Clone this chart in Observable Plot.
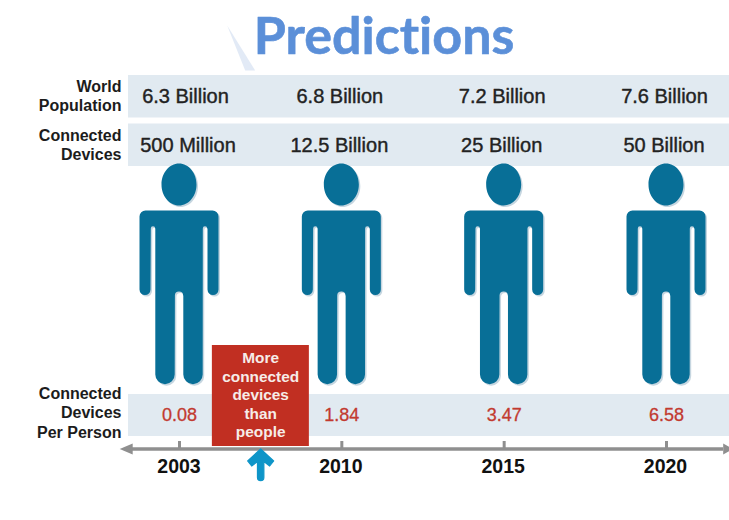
<!DOCTYPE html>
<html>
<head>
<meta charset="utf-8">
<title>Predictions</title>
<script src="https://cdn.jsdelivr.net/npm/d3@7"></script>
<script src="https://cdn.jsdelivr.net/npm/@observablehq/plot@0.6"></script>
<style>
  html, body { margin: 0; padding: 0; background: #fff; }
  svg { display: block; }
  svg text { font-variant-ligatures: none; }
</style>
</head>
<body>
<div id="chart"></div>
<script>
// Data
const years = [2003, 2010, 2015, 2020];
const worldPopulation = ["6.3 Billion", "6.8 Billion", "7.2 Billion", "7.6 Billion"];
const connectedDevices = ["500 Million", "12.5 Billion", "25 Billion", "50 Billion"];
const devicesPerPerson = [0.08, 1.84, 3.47, 6.58];
const rowLabels = ["World\nPopulation", "Connected\nDevices", "Connected\nDevices\nPer Person"];
const calloutText = "More\nconnected\ndevices\nthan\npeople";

// Vertical layout of the rows
const rowY = { population: 96, devices: 145, figure: 297, ratio: 415, year: 466 };
const bandY = [[75, 117.5], [123.5, 166], [394, 436]];
const labelY = [94.5, 143.5, 411.5];
const axisY = 448.5;

// Colours
const bandFill = "#e1eaf1";
const figureFill = "#086f97";
const red = "#c12f22";
const valueRed = "#c23a30";
const axisGrey = "#8f8f8f";
const arrowBlue = "#0e95c8";
const titleBlue = "#5b8fd8";

const sans = "'Liberation Sans', Arial, sans-serif";
const columns = years.map((_, i) => i);

// Standing person, drawn around the centre of the body
const person = {
  draw(c) {
    // head
    const k = 0.5523, rx = 17.5, ry = 21, hy = -113;
    c.moveTo(-rx, hy);
    c.bezierCurveTo(-rx, hy - k * ry, -k * rx, hy - ry, 0, hy - ry);
    c.bezierCurveTo(k * rx, hy - ry, rx, hy - k * ry, rx, hy);
    c.bezierCurveTo(rx, hy + k * ry, k * rx, hy + ry, 0, hy + ry);
    c.bezierCurveTo(-k * rx, hy + ry, -rx, hy + k * ry, -rx, hy);
    c.closePath();
    // shoulders, arms, legs
    c.moveTo(-33, -87);
    c.lineTo(33, -87);
    c.arcTo(39.5, -87, 39.5, -81, 6);
    c.lineTo(39.5, -8);
    c.arc(34, -8, 5.5, 0, Math.PI);
    c.lineTo(28.5, -69);
    c.arc(26, -69, 2.2, 0, Math.PI, true);
    c.lineTo(23.7, 77);
    c.arc(14, 77, 9.7, 0, Math.PI);
    c.lineTo(4.3, -2);
    c.arc(0, -2, 4.1, 0, Math.PI, true);
    c.lineTo(-4.3, 77);
    c.arc(-14, 77, 9.7, 0, Math.PI);
    c.lineTo(-23.7, -69);
    c.arc(-26, -69, 2.2, 0, Math.PI, true);
    c.lineTo(-28.5, -8);
    c.arc(-34, -8, 5.5, 0, Math.PI);
    c.lineTo(-39.5, -81);
    c.arcTo(-39.5, -87, -33, -87, 6);
    c.closePath();
  }
};

const upArrow = {
  draw(c) {
    c.moveTo(0, -15.5);
    c.lineTo(13, -3.5);
    c.lineTo(9, 1.5);
    c.lineTo(3.2, -3);
    c.lineTo(3.2, 13);
    c.arc(0, 13, 3.2, 0, Math.PI);
    c.lineTo(-3.2, -3);
    c.lineTo(-9, 1.5);
    c.lineTo(-13, -3.5);
    c.closePath();
  }
};

const triangle = (dir, half, reach) => ({
  draw(c) {
    c.moveTo(dir * reach, 0);
    c.lineTo(-dir * reach, -half);
    c.lineTo(-dir * reach, half);
    c.closePath();
  }
});

const wedge = {
  draw(c) {
    c.moveTo(-14, -23);
    c.lineTo(14, 22);
    c.lineTo(4, 22);
    c.closePath();
  }
};

// One row of column values; the first column can sit off-centre
const valueRow = (values, y, opts, firstDx = 0, restDx = 0) => {
  const base = { x: (d) => d.i, y: () => y, text: (d) => d.t, fontFamily: sans, ...opts };
  const cells = values.map((t, i) => ({ t, i }));
  return [
    Plot.text(cells.slice(0, 1), { ...base, dx: firstDx }),
    Plot.text(cells.slice(1), { ...base, dx: restDx })
  ];
};

const mediumText = { fontSize: 20, fill: "#222", stroke: "#222", strokeWidth: 0.4 };

const chart = Plot.plot({
  width: 729,
  height: 520,
  marginTop: 0,
  marginRight: 0,
  marginBottom: 0,
  marginLeft: 0,
  style: { background: "#fff", overflow: "visible" },
  x: { type: "linear", domain: [0, 3], range: [179, 666], axis: null },
  y: { type: "linear", domain: [0, 520], range: [0, 520], axis: null },
  marks: [
    // title with its pale wedge
    Plot.dot([0.38], { x: (d) => d, y: () => 48, symbol: wedge, fill: "#e2eaf6", r: 10 }),
    Plot.text(["Predictions"], {
      x: () => 1.26,
      y: () => 37,
      text: (d) => d,
      fontFamily: "Lato, sans-serif",
      fontWeight: 700,
      fontSize: 52,
      fill: titleBlue,
      stroke: titleBlue,
      strokeWidth: 0.6
    }),

    // shaded rows
    Plot.rect(bandY, { y1: (d) => d[0], y2: (d) => d[1], fill: bandFill, insetLeft: 128 }),

    // row headings
    Plot.text(rowLabels, {
      y: (_, i) => labelY[i],
      text: (d) => d,
      frameAnchor: "left",
      textAnchor: "end",
      dx: 121,
      lineHeight: 1.21,
      fontFamily: sans,
      fontWeight: 700,
      fontSize: 16,
      fill: "#1c1c1c"
    }),

    // figures with a soft edge at lower right
    Plot.dot(columns, { x: (d) => d, y: () => rowY.figure, symbol: person, fill: "#c6d6e0", r: 10, dx: 1, dy: 1.5 }),
    Plot.dot(columns, { x: (d) => d, y: () => rowY.figure, symbol: person, fill: figureFill, r: 10, dx: -0.5 }),

    // figures per column
    valueRow(worldPopulation, rowY.population, mediumText, 6, -2),
    valueRow(connectedDevices, rowY.devices, mediumText, 8.5, -2.5),
    valueRow(devicesPerPerson.map((d) => d.toFixed(2)), rowY.ratio, {
      fontSize: 18,
      fill: valueRed,
      stroke: valueRed,
      strokeWidth: 0.3
    }),

    // timeline
    Plot.ruleX(columns, { x: (d) => d, y1: () => 441, y2: () => axisY, stroke: axisGrey, strokeWidth: 3 }),
    Plot.ruleY([axisY], { y: (d) => d, stroke: axisGrey, strokeWidth: 3.5, insetLeft: 130, insetRight: 6 }),
    Plot.dot([-0.3285], { x: (d) => d, y: () => axisY, symbol: triangle(-1, 5.5, 6.5), fill: axisGrey, r: 5 }),
    Plot.dot([3.38], { x: (d) => d, y: () => axisY, symbol: triangle(1, 5.5, 5), fill: axisGrey, r: 5 }),
    valueRow(years.map(String), rowY.year, { fontSize: 19.5, fontWeight: 700, fill: "#111" }, -0.5, -1),

    // callout between 2003 and 2010
    Plot.rect([calloutText], {
      x1: () => 0.2025,
      x2: () => 0.8,
      y1: () => 345,
      y2: () => 446,
      fill: red
    }),
    Plot.text([calloutText], {
      x: () => 0.5,
      y: () => 394,
      text: (d) => d,
      lineHeight: 1.2,
      fontFamily: sans,
      fontWeight: 700,
      fontSize: 15.4,
      fill: "#f6ece8"
    }),
    Plot.dot([0.5], { x: (d) => d, y: () => 464, symbol: upArrow, fill: arrowBlue, stroke: arrowBlue, strokeWidth: 1.2, strokeLinejoin: "round", r: 10 })
  ]
});

document.getElementById("chart").appendChild(chart);
</script>
</body>
</html>
